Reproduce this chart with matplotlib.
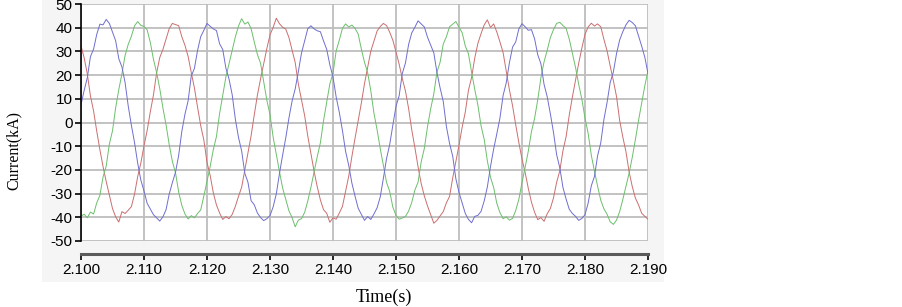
import matplotlib.pyplot as plt
import matplotlib
import numpy as np

# three-phase currents (kA), sampled every 0.5 ms from 2.100 s to 2.190 s
t_start = 2.100
t_step = 0.0005

phase_a = [  # blue
    7.5, 13.5, 18.9, 27.8, 31.0, 37.2, 41.5, 41.2, 43.5, 41.8,
    38.2, 34.5, 26.9, 23.4, 16.8, 6.9, -1.2, -8.5, -17.2, -24.3,
    -28.9, -34.1, -36.5, -38.9, -40.2, -41.6, -39.8, -36.8, -30.2, -25.4,
    -21.0, -13.9, -3.8, 3.5, 9.1, 19.6, 22.8, 30.4, 36.2, 38.9,
    41.8, 40.6, 39.5, 38.8, 33.2, 30.8, 22.9, 18.3, 11.7, 1.4,
    -6.3, -12.0, -21.4, -25.2, -33.0, -34.7, -38.2, -40.1, -41.4, -40.6,
    -39.3, -35.6, -30.1, -21.6, -13.8, -6.5, 1.8, 9.0, 14.2, 21.5,
    29.3, 34.5, 39.6, 40.8, 39.5, 38.7, 38.3, 34.4, 30.9, 24.3,
    19.2, 10.8, 4.3, -3.4, -12.2, -18.1, -25.6, -31.1, -36.2, -38.8,
    -41.3, -39.7, -40.9, -38.6, -36.0, -31.4, -23.5, -15.2, -9.3, -1.1,
    6.8, 11.3, 20.7, 25.1, 32.9, 37.8, 40.2, 42.9, 41.6, 40.3,
    36.0, 32.7, 29.4, 21.1, 14.6, 8.9, -1.7, -8.8, -14.2, -23.7,
    -29.5, -33.9, -38.4, -40.9, -42.3, -39.6, -39.2, -37.5, -33.1, -27.2,
    -18.6, -11.2, -4.8, 1.9, 11.4, 16.8, 25.2, 31.8, 34.0, 39.5,
    41.7, 40.4, 38.9, 39.2, 35.3, 28.6, 24.8, 16.1, 10.9, 3.7,
    -4.2, -13.6, -19.1, -27.4, -32.3, -36.6, -38.4, -39.6, -41.3, -40.5,
    -38.9, -34.0, -26.7, -22.8, -14.0, -8.6, 1.2, 8.4, 16.9, 21.3,
    29.0, 34.8, 38.3, 41.2, 43.1, 42.2, 40.8, 36.5, 32.2, 27.5,
    20.6,
]

phase_b = [  # green
    -39.5, -38.7, -40.2, -37.8, -38.6, -33.9, -30.7, -23.0, -18.4, -9.1,
    -3.5, 6.2, 13.9, 20.6, 28.3, 33.0, 36.4, 40.8, 42.6, 41.0,
    40.5, 39.1, 33.8, 26.7, 21.1, 14.3, 6.2, -1.0, -9.3, -16.4,
    -21.2, -29.3, -35.0, -38.6, -40.7, -39.3, -40.2, -38.4, -36.9, -31.0,
    -24.7, -18.6, -11.5, -5.9, 3.8, 11.6, 19.2, 24.9, 30.4, 36.1,
    40.7, 43.8, 41.5, 42.4, 39.6, 34.0, 28.7, 25.0, 17.1, 9.4,
    3.3, -6.2, -13.5, -20.7, -27.6, -32.4, -37.2, -40.1, -44.0, -41.2,
    -40.6, -37.9, -33.1, -27.3, -20.9, -14.4, -8.5, 0.8, 8.6, 16.3,
    20.8, 30.2, 34.7, 39.8, 41.6, 40.3, 41.1, 39.7, 37.3, 31.0,
    25.4, 21.0, 13.4, 3.9, -3.1, -11.0, -18.2, -25.3, -29.1, -35.7,
    -39.2, -40.8, -40.3, -39.6, -37.4, -33.7, -28.5, -25.2, -16.6, -10.9,
    -1.8, 5.7, 12.1, 21.3, 25.4, 33.1, 36.2, 40.4, 41.5, 42.6,
    40.2, 37.9, 32.3, 29.0, 21.2, 14.0, 7.3, -1.4, -7.1, -16.2,
    -23.1, -27.4, -34.1, -38.0, -40.6, -39.8, -41.2, -40.5, -37.1, -32.4,
    -25.3, -18.9, -12.1, -3.9, 1.8, 9.6, 18.9, 25.6, 30.5, 35.8,
    39.2, 41.8, 42.3, 40.9, 39.7, 35.2, 29.3, 23.2, 16.1, 9.8,
    1.9, -4.6, -13.8, -20.5, -26.9, -32.8, -36.4, -38.7, -41.9, -43.0,
    -41.2, -37.6, -32.5, -27.0, -21.4, -14.7, -7.2, 0.9, 8.3, 15.6,
    21.8,
]

phase_c = [  # red
    32.4, 27.3, 20.5, 11.2, 4.8, -3.7, -11.5, -18.6, -24.9, -30.6,
    -36.3, -39.8, -42.0, -37.6, -38.4, -37.0, -35.5, -30.2, -22.8, -17.1,
    -9.8, -3.4, 4.5, 11.6, 20.9, 27.4, 30.8, 35.2, 39.6, 41.8,
    41.3, 40.9, 36.2, 32.6, 27.9, 21.1, 14.6, 6.5, -1.3, -7.4,
    -16.8, -22.3, -29.6, -34.8, -38.2, -40.9, -39.7, -40.6, -38.8, -35.4,
    -31.2, -27.3, -20.1, -12.9, -5.6, 3.2, 11.5, 18.4, 24.7, 31.2,
    37.0, 40.1, 44.0, 41.7, 40.2, 39.4, 35.9, 30.6, 25.3, 16.2,
    9.5, 2.9, -5.8, -13.2, -20.6, -27.1, -32.7, -36.8, -38.3, -42.1,
    -40.2, -40.8, -38.2, -35.4, -28.9, -22.6, -14.3, -6.6, 0.7, 8.2,
    16.4, 23.3, 30.1, 34.3, 38.6, 40.5, 41.8, 40.9, 38.1, 34.7,
    29.8, 24.6, 18.5, 13.3, 5.9, -3.1, -10.6, -18.7, -25.8, -31.0,
    -35.2, -38.9, -42.5, -41.3, -39.4, -37.6, -33.9, -31.2, -23.4, -16.5,
    -9.6, -2.0, 4.4, 13.6, 19.0, 27.2, 33.4, 37.5, 41.2, 43.3,
    40.1, 41.6, 38.2, 34.0, 29.5, 21.7, 13.8, 7.1, -0.9, -8.5,
    -15.4, -21.1, -27.8, -33.6, -37.9, -41.0, -40.1, -41.7, -38.5, -36.3,
    -31.8, -25.2, -20.4, -11.9, -6.0, 3.1, 10.8, 17.9, 25.0, 31.4,
    37.2, 40.3, 41.9, 40.7, 41.6, 40.4, 35.1, 30.3, 23.8, 17.7,
    11.0, 0.9, -6.1, -12.3, -20.8, -27.0, -31.9, -34.8, -38.3, -39.6,
    -40.8,
]

x_ticks = [2.100, 2.110, 2.120, 2.130, 2.140, 2.150, 2.160, 2.170, 2.180, 2.190]
y_ticks = [-50, -40, -30, -20, -10, 0, 10, 20, 30, 40, 50]

t = t_start + t_step * np.arange(len(phase_a))

matplotlib.rcParams['font.family'] = 'Liberation Sans'
matplotlib.rcParams['axes.unicode_minus'] = False

fig = plt.figure(figsize=(9.03, 3.07), dpi=100)
fig.patch.set_facecolor('white')

# light gray panel behind the chart
bg = fig.add_axes([42 / 903, 1 - 282 / 307, 622 / 903, 282 / 307], zorder=0)
bg.set_facecolor('#f5f5f5')
bg.set_xticks([])
bg.set_yticks([])
for s in bg.spines.values():
    s.set_visible(False)

ax = fig.add_axes([81 / 903, 1 - 241 / 307, 567 / 903, 237 / 307], zorder=1)
ax.set_facecolor('white')

ax.plot(t, phase_c, color='#cc6e6e', lw=0.7)
ax.plot(t, phase_b, color='#6cbf6c', lw=0.7)
ax.plot(t, phase_a, color='#6e6ed0', lw=0.7)

ax.set_xlim(2.100, 2.190)
ax.set_ylim(-50, 50)
ax.set_xticks(x_ticks)
ax.set_xticklabels([f'{v:.3f}' for v in x_ticks])
ax.set_yticks(y_ticks)
ax.grid(True, color='#bdbdbd', lw=1.3)
ax.set_axisbelow(True)

for s in ['top', 'right']:
    ax.spines[s].set_visible(False)
ax.spines['left'].set_color('black')
ax.spines['left'].set_linewidth(1.2)
ax.spines['bottom'].set_position(('outward', 9.5))
ax.spines['bottom'].set_color('#5a5a5a')
ax.spines['bottom'].set_linewidth(2.2)

ax.tick_params(axis='y', direction='out', length=4, width=1.2, pad=2,
               labelsize=11, colors='black')
ax.tick_params(axis='x', direction='out', length=4, width=1.2, pad=2,
               labelsize=11, colors='black')

fig.text(14 / 903, 1 - 150 / 307, 'Current(kA)', rotation=90, ha='center',
         va='center', family='Liberation Serif', fontsize=11.5)
fig.text(384 / 903, 1 - 297 / 307, 'Time(s)', ha='center', va='center',
         family='Liberation Serif', fontsize=13)

fig.savefig('out.png', dpi=100)
